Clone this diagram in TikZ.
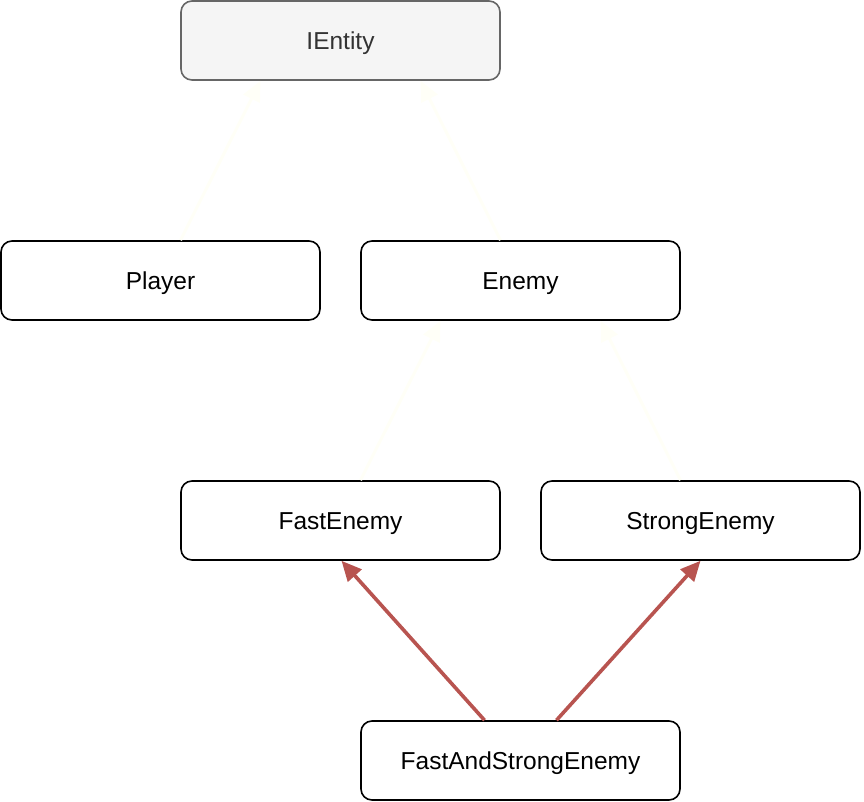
\documentclass[tikz,border=0pt]{standalone}
\usepackage{fontspec}
\setmainfont{Liberation Sans}
\usetikzlibrary{arrows.meta,calc}
\definecolor{redline}{HTML}{B85450}
\definecolor{faint}{RGB}{255,255,247}
\definecolor{greyfill}{HTML}{F5F5F5}
\definecolor{greydraw}{HTML}{666666}
\definecolor{greytext}{HTML}{333333}
\begin{document}
\begin{tikzpicture}[x=1pt,y=-1pt,
  box/.style={draw=black, line width=1.6pt, rounded corners=11pt, fill=white,
    minimum width=319pt, minimum height=79pt, inner sep=0pt,
    text height=18pt, text depth=0pt,
    font=\fontsize{24.5}{29}\selectfont},
  greybox/.style={box, draw=greydraw, fill=greyfill, text=greytext},
  redarrow/.style={draw=redline, line width=3.6pt, -{Triangle[length=20pt,width=18pt]}},
  faintarrow/.style={draw=faint, line width=3pt, -{Triangle[length=20pt,width=18pt]}}
]
\useasboundingbox (0,0) rectangle (864,802);
\node[greybox] (ie) at (340.5,40.5) {IEntity};
\node[box] (pl) at (160.5,280.5) {Player};
\node[box] (en) at (520.5,280.5) {Enemy};
\node[box] (fe) at (340.5,520.5) {FastEnemy};
\node[box] (se) at (700.5,520.5) {StrongEnemy};
\node[box] (fs) at (520.5,760.5) {FastAndStrongEnemy};
\draw[faintarrow] ($(pl.north)+(20,0)$) -- ($(ie.south)+(-80,0)$);
\draw[faintarrow] ($(en.north)+(-20,0)$) -- ($(ie.south)+(80,0)$);
\draw[faintarrow] ($(fe.north)+(20,0)$) -- ($(en.south)+(-80,0)$);
\draw[faintarrow] ($(se.north)+(-20,0)$) -- ($(en.south)+(80,0)$);
\draw[redarrow] ($(fs.north)+(-36,0)$) -- ($(fe.south)+(1,0)$);
\draw[redarrow] ($(fs.north)+(36,0)$) -- ($(se.south)+(0,0)$);
\end{tikzpicture}
\end{document}
